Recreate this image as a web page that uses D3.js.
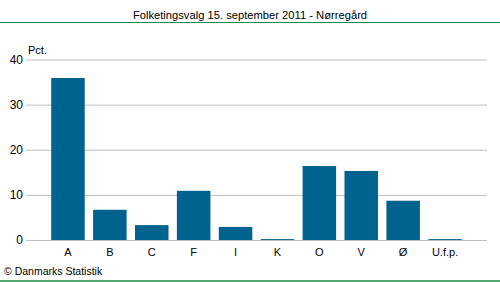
<!DOCTYPE html>
<html><head><meta charset="utf-8">
<script src="https://cdn.jsdelivr.net/npm/d3@7"></script>
<style>body{margin:0;background:#fff}svg{display:block;font-family:"Liberation Sans",Arial,sans-serif}</style>
</head><body><svg id="c" width="500" height="282"></svg>
<script>
const categories = ["A","B","C","F","I","K","O","V","Ø","U.f.p."];
const values = [35.9,6.7,3.3,10.9,2.9,0.2,16.4,15.3,8.7,0.2];
const yTicks = [0,10,20,30,40];
const title = "Folketingsvalg 15. september 2011 - Nørregård";

const svg = d3.select("#c");
const x = d3.scaleBand().domain(categories).range([47,466]).paddingInner(0.2).paddingOuter(0.1);
const y = d3.scaleLinear().domain([0,40]).range([240,59.5]);

svg.append("text").attr("x",250).attr("y",19).attr("text-anchor","middle").attr("font-size",11.2).attr("fill","#000").text(title);
svg.append("line").attr("x1",0).attr("x2",500).attr("y1",22.5).attr("y2",22.5).attr("stroke","#198a45").attr("stroke-width",1.2);
svg.append("line").attr("x1",0).attr("x2",500).attr("y1",281).attr("y2",281).attr("stroke","#198a45").attr("stroke-width",1.5);

const yAxis = d3.axisLeft(y).tickValues(yTicks).tickSize(-(487-26)).tickPadding(3);
const ga = svg.append("g").attr("transform","translate(26,0)").call(yAxis);
ga.select(".domain").remove();
ga.selectAll(".tick line").attr("stroke","#bfbfbf");
ga.selectAll(".tick text").attr("font-size",12).attr("fill","#000").attr("font-family","Liberation Sans, Arial, sans-serif");

svg.append("text").attr("x",28).attr("y",54).attr("font-size",11).text("Pct.");

svg.selectAll("rect.bar").data(values).join("rect").attr("class","bar")
  .attr("x",(d,i)=>x(categories[i])).attr("width",x.bandwidth())
  .attr("y",d=>y(d)).attr("height",d=>y(0)-y(d)).attr("fill","#00628f");

const xAxis = d3.axisBottom(x).tickSize(0).tickPadding(8);
const gx = svg.append("g").attr("transform","translate(0,240)").call(xAxis);
gx.select(".domain").remove();
gx.selectAll(".tick text").attr("font-size",11).attr("fill","#000").attr("font-family","Liberation Sans, Arial, sans-serif");

svg.append("text").attr("x",4).attr("y",275).attr("font-size",10.5).text("© Danmarks Statistik");
</script></body></html>
